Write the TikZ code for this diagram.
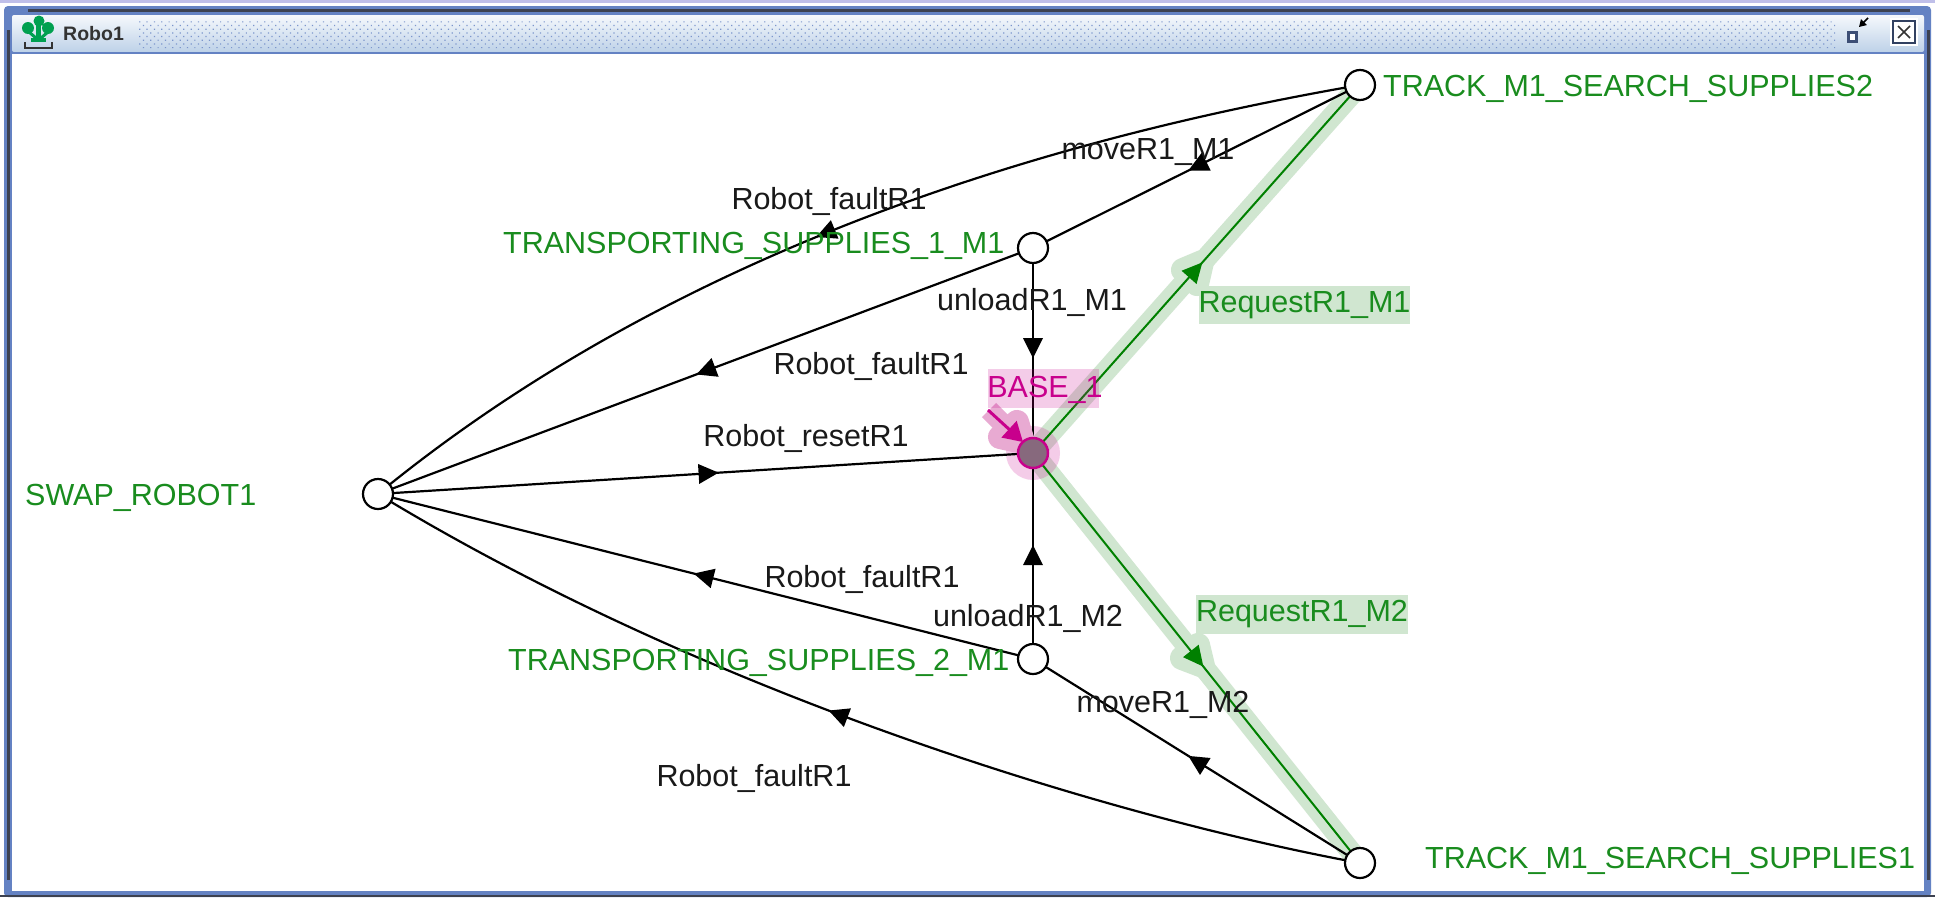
\documentclass[tikz,border=0pt]{standalone}
\usepackage{fontspec}
\setmainfont{Liberation Sans}
\usetikzlibrary{arrows.meta,decorations.markings,patterns.meta}
\definecolor{frameblue}{RGB}{100,130,195}
\definecolor{framedark}{RGB}{60,65,80}
\definecolor{titletop}{RGB}{245,248,252}
\definecolor{titlebot}{RGB}{190,210,232}
\definecolor{stategreen}{RGB}{25,140,30}
\definecolor{halogreen}{RGB}{208,230,208}
\definecolor{edgegreen}{RGB}{0,128,0}
\definecolor{basemag}{RGB}{200,0,140}
\definecolor{halopink}{RGB}{232,170,210}
\definecolor{basefill}{RGB}{135,105,125}
\definecolor{iconGreen}{RGB}{0,160,80}
\newcommand{\lblfont}{\fontsize{30.5}{30.5}\selectfont}
\tikzset{
  x=1pt,y=-1pt,
  statenode/.style={circle,draw=black,fill=white,line width=2.2pt,minimum size=30pt,inner sep=0pt},
  basenode/.style={circle,draw=basemag,fill=basefill,line width=2.5pt,minimum size=30pt,inner sep=0pt},
  statelabel/.style={text=stategreen,font=\lblfont,inner sep=0pt,anchor=west},
  edgelabel/.style={text=black!90,font=\lblfont,inner sep=0pt},
  greenlabel/.style={text=stategreen,fill=halogreen,font=\lblfont,inner sep=0pt},
  edgeline/.style={draw=black,line width=2.2pt},
  greenline/.style={draw=edgegreen,line width=2pt},
  haloline/.style={draw=halogreen,line width=21pt,line cap=butt},
  tiphalo/.style={line width=24pt,line join=round},
  midtip/.style={postaction={decorate},decoration={markings,mark=at position #1 with {\arrow[black,line width=0pt]{Triangle[length=20pt,width=20pt]}}}},
  midgreentip/.style={postaction={decorate},decoration={markings,mark=at position #1 with {\arrow[edgegreen,line width=0pt]{Triangle[length=20pt,width=20pt]}}}},
}
\begin{document}
\begin{tikzpicture}
\useasboundingbox (0,0) rectangle (1935,897);
\fill[white] (0,0) rectangle (1935,897);
% window frame
\fill[black!35!blue!25!white] (0,0) rectangle (1935,2.5);
\fill[frameblue,rounded corners=4pt] (4,6) rectangle (1931,897);
\fill[framedark] (28,9) rectangle (1910,11.5);
\fill[framedark] (7,30) rectangle (9.5,880);
\fill[framedark] (1927,30) rectangle (1929.5,880);
\fill[framedark] (0,894.5) rectangle (1935,897);
\shade[top color=titletop,bottom color=titlebot,rounded corners=2pt] (12,15) rectangle (1924,52);
\fill[frameblue] (12,52) rectangle (1924,54);
\fill[white] (12,54) rectangle (1924,891);
\fill[pattern={Dots[radius=0.85pt,distance=5.2pt,angle=45]},pattern color=frameblue!85] (138,20) rectangle (1835,48);
% title bar content
\node[inner sep=0pt,anchor=west,font=\bfseries\fontsize{19.5}{19.5}\selectfont,text=black!80] (title) at (63,34) {Robo1};
\fill[iconGreen] (39,21) circle (5.5) (28,28) circle (6) (48,28) circle (6);
\fill[iconGreen] (36,21) rectangle (41,41);
\fill[iconGreen] (31,38) rectangle (46,42);
\draw[iconGreen,line width=3pt] (29,32) -- (36,38) (48,32) -- (41,38);
\draw[black!80,line width=2.2pt] (25,42) -- (25,48) -- (52,48) -- (52,42);
\draw[fill=white,line width=3pt,draw=frameblue!60!black] (1848,32) rectangle (1856,41);
\draw[-{Triangle[length=7pt,width=8pt]},black,line width=1.5pt] (1868,18) -- (1859,27);
\fill[white] (1890,18) rectangle (1918,46);
\draw[frameblue!50!black,line width=2.2pt] (1893,21) rectangle (1915,43);
\draw[black!80,line width=1.5pt] (1898,26) -- (1910,38) (1910,26) -- (1898,38);
% node centres
\coordinate (T2) at (1360,85);
\coordinate (T1) at (1033,248);
\coordinate (B) at (1033,453);
\coordinate (S) at (378,494);
\coordinate (M2) at (1033,659);
\coordinate (T3) at (1360,863);
% halos
\draw[haloline] (B) -- (T2);
\draw[haloline] (B) -- (T3);
\filldraw[halogreen,tiphalo] (1202,262) -- (1183,270) -- (1197,284) -- cycle;
\filldraw[halogreen,tiphalo] (1203,666) -- (1182,658) -- (1198,645) -- cycle;
\fill[basemag,opacity=.2] (B) circle (27);
% edges
\path[edgeline,midtip=0.526] (T2) .. controls (1100,130) and (700,230) .. (S);
\path[edgeline,midtip=0.525] (T2) -- (T1);
\path[edgeline,midtip=0.514] (T1) -- (S);
\path[edgeline,midtip=0.537] (T1) -- (B);
\path[edgeline,midtip=0.52] (S) -- (B);
\path[edgeline,midtip=0.518] (M2) -- (S);
\path[edgeline,midtip=0.553] (M2) -- (B);
\path[edgeline,midtip=0.525] (T3) -- (M2);
\path[edgeline,midtip=0.525] (T3) .. controls (1100,815) and (700,690) .. (S);
\path[greenline,midgreentip=0.518] (B) -- (T2);
\path[greenline,midgreentip=0.521] (B) -- (T3);
% initial arrow
\draw[draw=halopink,line width=20pt] (989,410) -- (1007,428);
\filldraw[halopink,tiphalo] (1023,442) -- (1017,422) -- (1000,437) -- cycle;
\draw[basemag,line width=3pt,-{Triangle[length=19pt,width=22pt]}] (988,410) -- (1023,442);
% state nodes
\node[statenode] (nT2) at (T2) {};
\node[statenode] (nT1) at (T1) {};
\node[basenode] (nB) at (B) {};
\node[statenode] (nS) at (S) {};
\node[statenode] (nM2) at (M2) {};
\node[statenode] (nT3) at (T3) {};
% labels
\node[statelabel] (l1) at (1383,89) {TRACK\_M1\_SEARCH\_SUPPLIES2};
\node[statelabel] (l2) at (503,246) {TRANSPORTING\_SUPPLIES\_1\_M1};
\node[statelabel] (l3) at (25,498) {SWAP\_ROBOT1};
\node[statelabel] (l4) at (508,663) {TRANSPORTING\_SUPPLIES\_2\_M1};
\node[statelabel] (l5) at (1425,861) {TRACK\_M1\_SEARCH\_SUPPLIES1};
\fill[basemag,opacity=.2] (988,369) rectangle (1099,408);
\node[inner sep=0pt,text=basemag,font=\lblfont] (l6) at (1045,390) {BASE\_1};
\node[edgelabel] (e1) at (1148,152) {moveR1\_M1};
\node[edgelabel] (e2) at (829,201) {Robot\_faultR1};
\node[edgelabel] (e3) at (1032,302) {unloadR1\_M1};
\node[edgelabel] (e4) at (871,366) {Robot\_faultR1};
\node[edgelabel] (e5) at (806,438) {Robot\_resetR1};
\node[edgelabel] (e6) at (862,579) {Robot\_faultR1};
\node[edgelabel] (e7) at (1028,618) {unloadR1\_M2};
\node[edgelabel] (e8) at (1163,705) {moveR1\_M2};
\node[edgelabel] (e9) at (754,778) {Robot\_faultR1};
\node[greenlabel,minimum width=207pt,minimum height=38pt] (e10) at (1304.5,305) {RequestR1\_M1};
\node[greenlabel,minimum width=212pt,minimum height=39pt] (e11) at (1302,614) {RequestR1\_M2};
\end{tikzpicture}
\end{document}
